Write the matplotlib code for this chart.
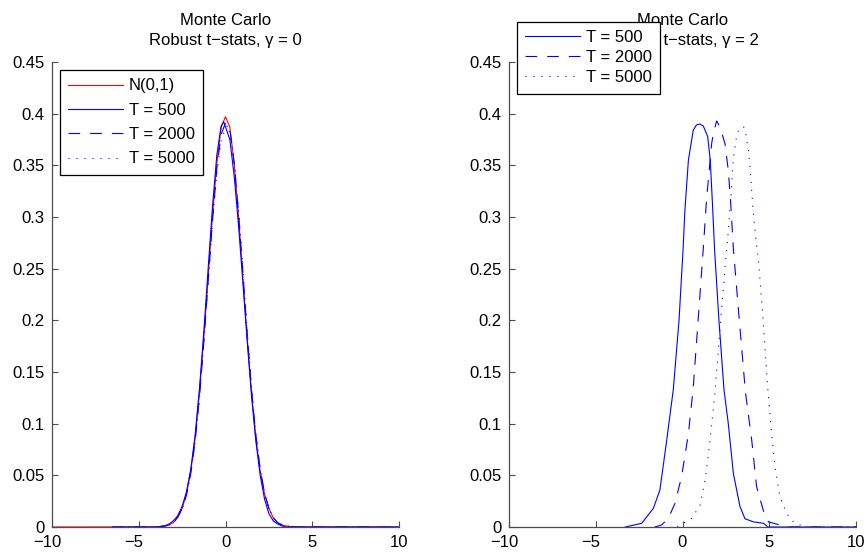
import matplotlib
matplotlib.use("Agg")
import matplotlib.pyplot as plt
from matplotlib.transforms import ScaledTranslation

plt.rcParams['font.family'] = ['Liberation Sans', 'DejaVu Sans']

# ---------------- Left panel (gamma = 0) ----------------
x_norm = [-10, -4.0, -3.5, -3.25, -3.0, -2.75, -2.5, -2.25, -2.0, -1.75, -1.5, -1.25, -1.0, -0.75, -0.5, -0.25,
          0.0, 0.25, 0.5, 0.75, 1.0, 1.25, 1.5, 1.75, 2.0, 2.25, 2.5, 2.75, 3.0, 3.25, 3.5, 4.0, 10]
y_norm = [0.0, 0.0001, 0.0009, 0.002, 0.0044, 0.009, 0.018, 0.032, 0.054, 0.086, 0.130, 0.183, 0.242, 0.301, 0.352, 0.387,
          0.397, 0.387, 0.352, 0.301, 0.242, 0.183, 0.130, 0.086, 0.054, 0.032, 0.018, 0.009, 0.0044, 0.002, 0.0009, 0.0001, 0.0]

x_l500 = [-6.5, -4.0, -3.5, -3.25, -3.0, -2.75, -2.5, -2.25, -2.0, -1.75, -1.5, -1.25, -1.0, -0.75, -0.5, -0.25,
          -0.1, 0.25, 0.5, 0.75, 1.0, 1.25, 1.5, 1.75, 2.0, 2.25, 2.5, 2.75, 3.0, 3.25, 3.5, 4.0, 10]
y_l500 = [0.0, 0.0, 0.001, 0.003, 0.006, 0.011, 0.020, 0.034, 0.056, 0.089, 0.134, 0.189, 0.250, 0.310, 0.360, 0.388,
          0.392, 0.375, 0.340, 0.292, 0.237, 0.180, 0.127, 0.083, 0.050, 0.027, 0.013, 0.006, 0.003, 0.001, 0.0, 0.0, 0.0]

x_l2000 = [-6.5, -4.0, -3.5, -3.25, -3.0, -2.75, -2.5, -2.25, -2.0, -1.75, -1.5, -1.25, -1.0, -0.75, -0.5, -0.25,
           0.0, 0.25, 0.5, 0.75, 1.0, 1.25, 1.5, 1.75, 2.0, 2.25, 2.5, 2.75, 3.0, 3.25, 3.5, 4.0, 10]
y_l2000 = [0.0, 0.0, 0.001, 0.002, 0.005, 0.010, 0.018, 0.031, 0.052, 0.083, 0.126, 0.179, 0.238, 0.296, 0.347, 0.380,
           0.391, 0.385, 0.352, 0.304, 0.247, 0.187, 0.133, 0.089, 0.056, 0.033, 0.018, 0.009, 0.004, 0.002, 0.001, 0.0, 0.0]

x_l5000 = [-6.5, -4.0, -3.5, -3.25, -3.0, -2.75, -2.5, -2.25, -2.0, -1.75, -1.5, -1.25, -1.0, -0.75, -0.5, -0.25,
           0.0, 0.15, 0.5, 0.75, 1.0, 1.25, 1.5, 1.75, 2.0, 2.25, 2.5, 2.75, 3.0, 3.25, 3.5, 4.0, 10]
y_l5000 = [0.0, 0.0, 0.001, 0.002, 0.004, 0.009, 0.017, 0.030, 0.051, 0.082, 0.125, 0.178, 0.236, 0.294, 0.342, 0.374,
           0.386, 0.389, 0.356, 0.308, 0.250, 0.190, 0.136, 0.090, 0.057, 0.033, 0.018, 0.009, 0.004, 0.002, 0.001, 0.0, 0.0]

# ---------------- Right panel (gamma = 2) ----------------
x_r500 = [-3.3, -2.35, -1.68, -1.3, -0.91, -0.53, -0.2, 0.03, 0.14, 0.34, 0.62, 0.8, 1.0, 1.2, 1.45,
          1.6, 1.72, 1.85, 2.1, 2.39, 2.64, 2.93, 3.31, 3.6, 4.08, 4.66, 4.93, 10]
y_r500 = [0.0, 0.0036, 0.018, 0.036, 0.084, 0.133, 0.200, 0.268, 0.307, 0.355, 0.384, 0.389, 0.390, 0.388, 0.378,
          0.355, 0.315, 0.268, 0.200, 0.133, 0.100, 0.052, 0.020, 0.008, 0.005, 0.0036, 0.0, 0.0]

x_r2000 = [-1.6, -1.2, -0.82, -0.43, -0.05, 0.34, 0.62, 0.9, 1.2, 1.39, 1.49, 1.68, 1.78, 1.97, 2.16,
           2.45, 2.64, 2.78, 2.93, 3.25, 3.63, 3.99, 4.27, 4.66, 4.95, 5.6, 6.0, 10]
y_r2000 = [0.0, 0.002, 0.0084, 0.023, 0.049, 0.090, 0.135, 0.200, 0.270, 0.318, 0.336, 0.371, 0.381, 0.393, 0.387,
           0.371, 0.345, 0.313, 0.270, 0.205, 0.130, 0.084, 0.039, 0.016, 0.005, 0.002, 0.0, 0.0]

x_r5000 = [-0.3, 0.05, 0.53, 1.01, 1.3, 1.59, 1.87, 2.2, 2.51, 2.6, 2.7, 2.78, 2.89, 2.97, 3.12, 3.27, 3.54,
           3.66, 3.81, 3.89, 3.99, 4.1, 4.25, 4.37, 4.65, 4.92, 5.14, 5.33, 5.62, 6.0, 6.39, 6.77, 7.1, 10]
y_r5000 = [0.0, 0.0036, 0.0084, 0.021, 0.045, 0.084, 0.130, 0.200, 0.262, 0.278, 0.300, 0.316, 0.347, 0.362, 0.378, 0.386, 0.387,
           0.379, 0.363, 0.349, 0.325, 0.300, 0.275, 0.260, 0.200, 0.133, 0.090, 0.058, 0.029, 0.013, 0.005, 0.002, 0.0, 0.0]

titles = ["Monte Carlo\nRobust t\u2212stats, \u03b3 = 0", "Monte Carlo\nRobust t\u2212stats, \u03b3 = 2"]
labels_left = ["N(0,1)", "T = 500", "T = 2000", "T = 5000"]
labels_right = ["T = 500", "T = 2000", "T = 5000"]
xticks = [-10, -5, 0, 5, 10]
xticklabels = ["\u221210", "\u22125", "0", "5", "10"]
yticks = [0, 0.05, 0.1, 0.15, 0.2, 0.25, 0.3, 0.35, 0.4, 0.45]
yticklabels = ["0", "0.05", "0.1", "0.15", "0.2", "0.25", "0.3", "0.35", "0.4", "0.45"]

fig = plt.figure(figsize=(8.68, 5.56), dpi=100)
ax1 = fig.add_axes([52 / 868, 29 / 556, 347 / 868, 465 / 556])
ax2 = fig.add_axes([509 / 868, 29 / 556, 347 / 868, 465 / 556])

lw = 0.8
dash = (0, (10.5, 9))
dot = (0, (1, 6.2))
FS = 12

ax1.plot(x_norm, y_norm, color='red', lw=lw, label=labels_left[0])
ax1.plot(x_l500, y_l500, color='blue', lw=lw, ls='-', label=labels_left[1])
ax1.plot(x_l2000, y_l2000, color='blue', lw=lw, ls=dash, label=labels_left[2])
ax1.plot(x_l5000, y_l5000, color='blue', lw=lw, ls=dot, label=labels_left[3])

ax2.plot(x_r500, y_r500, color='blue', lw=lw, ls='-', label=labels_right[0])
ax2.plot(x_r2000, y_r2000, color='blue', lw=lw, ls=dash, label=labels_right[1])
ax2.plot(x_r5000, y_r5000, color='blue', lw=lw, ls=dot, label=labels_right[2])

shift = ScaledTranslation(-5 / 100, 0, fig.dpi_scale_trans)
for ax, t in zip([ax1, ax2], titles):
    ax.set_xlim(-10, 10)
    ax.set_ylim(0, 0.45)
    ax.set_xticks(xticks)
    ax.set_xticklabels(xticklabels)
    ax.set_yticks(yticks)
    ax.set_yticklabels(yticklabels)
    ax.spines['top'].set_visible(False)
    ax.spines['right'].set_visible(False)
    for s in ['left', 'bottom']:
        ax.spines[s].set_linewidth(0.9)
        ax.spines[s].set_color('0.3')
    ax.tick_params(direction='in', length=4, width=0.8, labelsize=FS, color='0.3')
    ax.tick_params(axis='y', pad=5.5)
    ax.tick_params(axis='x', pad=6)
    for lab in ax.get_xticklabels():
        if lab.get_text().startswith("\u2212"):
            lab.set_transform(lab.get_transform() + shift)
    ax.set_title(t, fontsize=FS, pad=12, linespacing=1.42)

leg1 = ax1.legend(loc='upper left', bbox_to_anchor=(60 / 868, 1 - 70 / 556), bbox_transform=fig.transFigure,
                  fontsize=FS, fancybox=False, framealpha=1, edgecolor='black', handlelength=3.25,
                  borderpad=0.5, labelspacing=0.56, handletextpad=0.38, borderaxespad=0)
leg1.get_frame().set_linewidth(0.9)
leg2 = ax2.legend(loc='upper left', bbox_to_anchor=(517 / 868, 1 - 22 / 556), bbox_transform=fig.transFigure,
                  fontsize=FS, fancybox=False, framealpha=1, edgecolor='black', handlelength=3.25,
                  borderpad=0.5, labelspacing=0.3, handletextpad=0.38, borderaxespad=0)
leg2.get_frame().set_linewidth(0.9)

fig.savefig("out.png", dpi=100)
